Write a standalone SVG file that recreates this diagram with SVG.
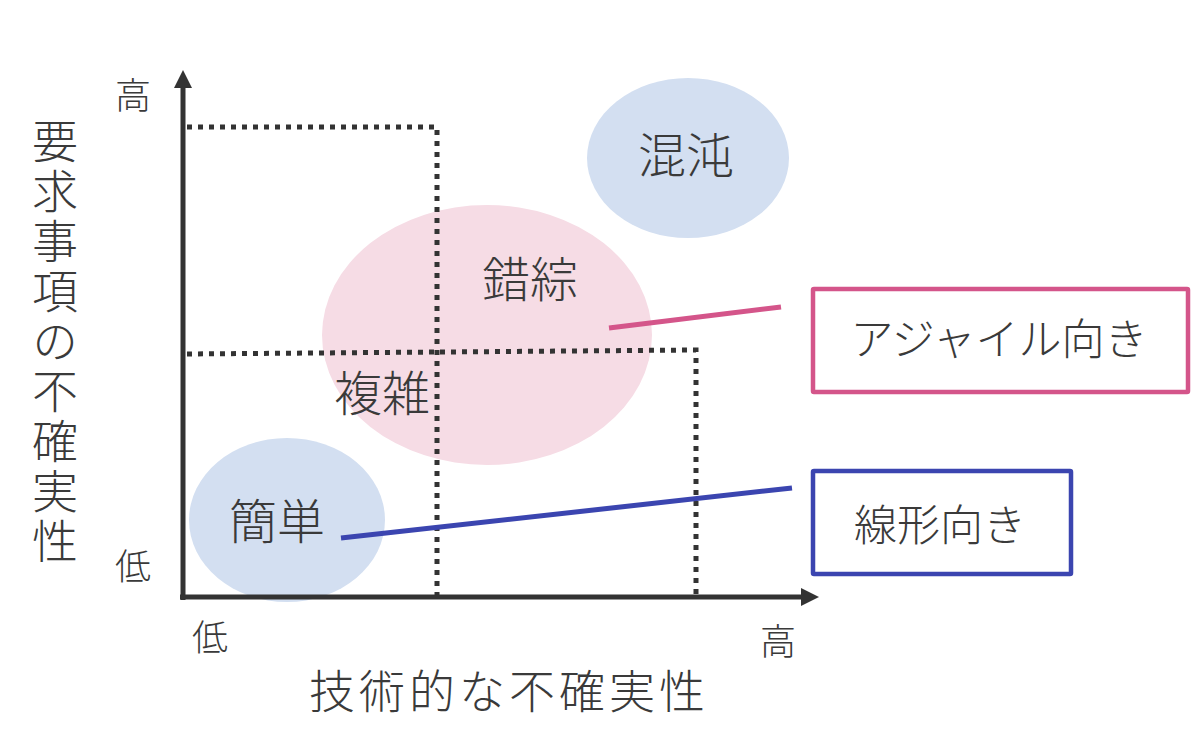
<svg xmlns="http://www.w3.org/2000/svg" width="1200" height="743" viewBox="0 0 1200 743">
<style>
.t{font-family:"Noto Sans CJK JP","Noto Sans CJK SC",sans-serif;fill:#3a3a3a;font-weight:300}
.dot{fill:none;stroke:#333;stroke-width:5;stroke-dasharray:5 6}
.axis{stroke:#333;stroke-width:5;fill:none}
.blue{fill:#d3dff1}
.pink{fill:#f6dce5}
</style>
<rect width="1200" height="743" fill="#fff"/>
<g id="regions">
<ellipse id="sakuso-region" class="pink" cx="487" cy="335" rx="165" ry="130"/>
<ellipse id="konton-region" class="blue" cx="688" cy="158" rx="101" ry="80"/>
<ellipse id="kantan-region" class="blue" cx="287" cy="520" rx="98" ry="82"/>
</g>
<g id="grid">
<path class="dot" d="M187 127 H437 V597"/>
<path class="dot" d="M187 354 L696 350 V597"/>
</g>
<g id="axes">
<path class="axis" d="M183 600 V86"/>
<polygon points="183,70 174,88 192,88" fill="#333"/>
<path class="axis" d="M180 597 H804"/>
<polygon points="819,597 801,588 801,606" fill="#333"/>
</g>
<g id="connectors">
<line x1="341" y1="538" x2="792" y2="488" stroke="#3b45b0" stroke-width="5"/>
<line x1="609" y1="328" x2="781" y2="307" stroke="#d4558a" stroke-width="5"/>
</g>
<g id="konton"><text class="t" x="686" y="173" font-size="48" text-anchor="middle">混沌</text></g>
<g id="sakuso"><text class="t" x="530" y="297" font-size="48" text-anchor="middle">錯綜</text></g>
<g id="fukuzatsu"><text class="t" x="382" y="411" font-size="48" text-anchor="middle">複雑</text></g>
<g id="kantan"><text class="t" x="277" y="539" font-size="48" text-anchor="middle">簡単</text></g>
<g id="agile">
<rect x="813" y="289" width="375" height="103" fill="#fff" stroke="#d4558a" stroke-width="4.5" rx="1"/>
<text class="t" x="999" y="355" font-size="43" text-anchor="middle">アジャイル向き</text>
</g>
<g id="linear">
<rect x="813" y="471" width="258" height="103" fill="#fff" stroke="#3b45b0" stroke-width="4.5" rx="1"/>
<text class="t" x="940" y="541" font-size="43" text-anchor="middle">線形向き</text>
</g>
<g id="labels">
<text class="t" x="133" y="109" font-size="36" text-anchor="middle">高</text>
<text class="t" x="133" y="580" font-size="36" text-anchor="middle">低</text>
<text class="t" x="210" y="651" font-size="36" text-anchor="middle">低</text>
<text class="t" x="778" y="655" font-size="36" text-anchor="middle">高</text>
<text class="t" x="509" y="708" font-size="46" text-anchor="middle" letter-spacing="4">技術的な不確実性</text>
<text class="t" x="55" y="118" font-size="46" writing-mode="vertical-rl" letter-spacing="4">要求事項の不確実性</text>
</g>
</svg>
